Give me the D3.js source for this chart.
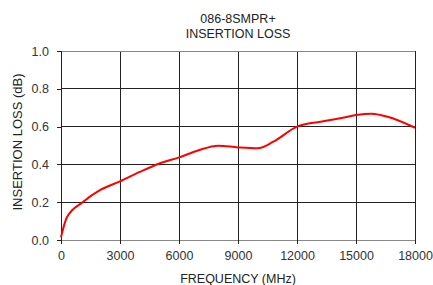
<!DOCTYPE html>
<html>
<head>
<meta charset="utf-8">
<script src="https://cdn.jsdelivr.net/npm/d3@7"></script>
<style>
  body { margin: 0; background: #fff; }
  text { font-family: "Liberation Sans", Arial, sans-serif; }
</style>
</head>
<body>
<div id="chart"></div>
<script>
// values
const freqMHz = [0, 300, 1100, 2000, 3000, 4000, 5000, 6000, 7000, 8000, 9000, 10000, 10800, 12000, 13200, 14200, 15000, 15800, 16600, 18000];
const lossDb = [0.015, 0.12, 0.2, 0.265, 0.31, 0.36, 0.405, 0.437, 0.475, 0.499, 0.49, 0.485, 0.52, 0.6, 0.626, 0.644, 0.661, 0.668, 0.652, 0.594];
const xTicks = [0, 3000, 6000, 9000, 12000, 15000, 18000];
const yTicks = [0, 0.2, 0.4, 0.6, 0.8, 1.0];
const titleLines = ["086-8SMPR+", "INSERTION LOSS"];

const W = 433, H = 285;
const margin = { top: 51, right: 18, bottom: 45, left: 61 },
  width = W - margin.left - margin.right,
  height = H - margin.top - margin.bottom;
const fs = 12.5;

const svg = d3.select("#chart").append("svg")
  .attr("width", W).attr("height", H);

const g = svg.append("g")
  .attr("transform", "translate(" + margin.left + "," + margin.top + ")");

const x = d3.scaleLinear().domain([0, 18000]).range([0, width]);
const y = d3.scaleLinear().domain([0, 1]).range([height, 0]);

// grid (outer top/bottom lines look lighter in the original)
g.append("g").selectAll("line").data(xTicks.slice(1)).enter().append("line")
  .attr("x1", d => x(d)).attr("x2", d => x(d))
  .attr("y1", 0).attr("y2", height)
  .attr("stroke", "#222").attr("stroke-width", 1)
  .attr("shape-rendering", "crispEdges");
g.append("g").selectAll("line").data(yTicks).enter().append("line")
  .attr("x1", 0).attr("x2", width)
  .attr("y1", d => y(d)).attr("y2", d => y(d))
  .attr("stroke", d => (d == 0 || d == 1) ? "#888" : "#222")
  .attr("stroke-width", 1)
  .attr("shape-rendering", "crispEdges");

// axes
const xAxis = g.append("g")
  .attr("transform", "translate(0," + height + ")")
  .call(d3.axisBottom(x).tickValues(xTicks).tickFormat(d3.format("d")).tickSize(4).tickPadding(7));
const yAxis = g.append("g")
  .call(d3.axisLeft(y).tickValues(yTicks).tickFormat(d3.format(".1f")).tickSize(4).tickPadding(8));

[xAxis, yAxis].forEach(a => {
  a.selectAll("text").attr("font-size", fs).attr("fill", "#333")
    .attr("font-family", "Liberation Sans, Arial, sans-serif");
  a.selectAll(".tick line").attr("stroke", "#222").attr("shape-rendering", "crispEdges");
});
xAxis.select(".domain").remove();
yAxis.select(".domain").attr("stroke", "#222").attr("shape-rendering", "crispEdges");

// curve
const line = d3.line()
  .x((d, i) => x(freqMHz[i]))
  .y(d => y(d))
  .curve(d3.curveMonotoneX);
g.append("path")
  .datum(lossDb)
  .attr("d", line)
  .attr("fill", "none")
  .attr("stroke", "#ff0000")
  .attr("stroke-width", 2);

// titles
svg.append("g").selectAll("text").data(titleLines).enter().append("text")
  .attr("x", margin.left + width / 2)
  .attr("y", (d, i) => 23 + i * 15)
  .attr("text-anchor", "middle")
  .attr("font-size", fs).attr("fill", "#222")
  .text(d => d);

svg.append("text")
  .attr("x", margin.left + width / 2)
  .attr("y", 283)
  .attr("text-anchor", "middle")
  .attr("font-size", fs).attr("fill", "#222")
  .text("FREQUENCY (MHz)");

svg.append("text")
  .attr("transform", "translate(22,142) rotate(-90)")
  .attr("text-anchor", "middle")
  .attr("font-size", 13).attr("fill", "#222")
  .text("INSERTION LOSS (dB)");
</script>
</body>
</html>
